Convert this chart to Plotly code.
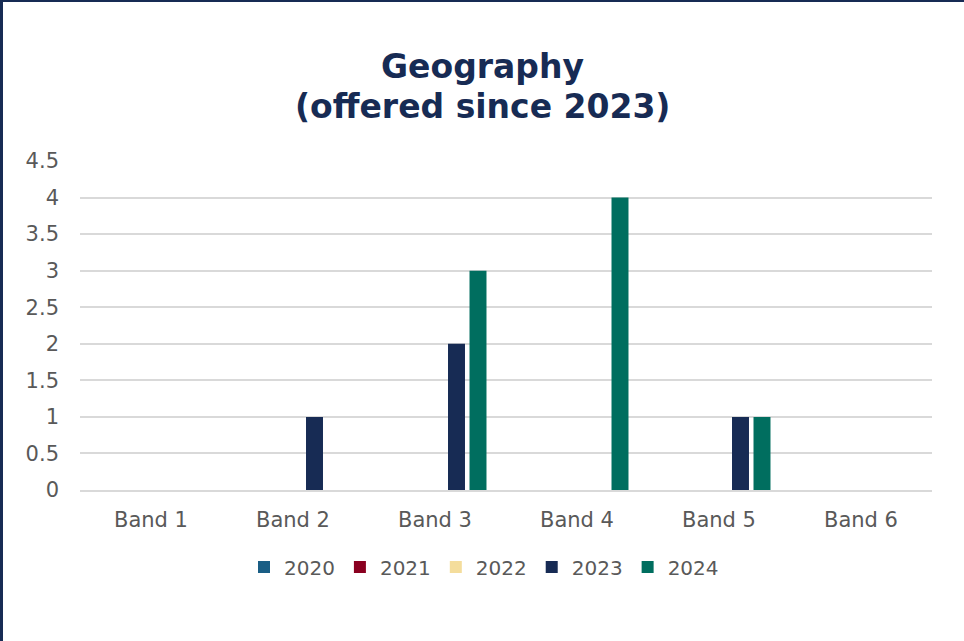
import plotly.graph_objects as go

# Categories and per-year counts
bands = ["Band 1", "Band 2", "Band 3", "Band 4", "Band 5", "Band 6"]
years = ["2020", "2021", "2022", "2023", "2024"]
counts_2020 = [0, 0, 0, 0, 0, 0]
counts_2021 = [0, 0, 0, 0, 0, 0]
counts_2022 = [0, 0, 0, 0, 0, 0]
counts_2023 = [0, 1, 2, 0, 1, 0]
counts_2024 = [0, 0, 3, 4, 1, 0]
y_ticks = [0, 0.5, 1, 1.5, 2, 2.5, 3, 3.5, 4, 4.5]
y_tick_text = ["0", "0.5", "1", "1.5", "2", "2.5", "3", "3.5", "4", "4.5"]
title_lines = ["Geography", "(offered since 2023)"]

series = [counts_2020, counts_2021, counts_2022, counts_2023, counts_2024]
colors = ["#1a5e85", "#8a0020", "#f4dd9c", "#172b54", "#006e5f"]

NAVY = "#172b54"
GREY = "#595959"
W, H = 964, 641
ML, MR, MT, MB = 80, 32, 161, 151
PW, PH = W - ML - MR, H - MT - MB

fig = go.Figure()
for name, vals, col in zip(years, series, colors):
    fig.add_trace(go.Bar(
        x=bands, y=vals, name=name,
        marker=dict(color=col, line=dict(width=0)),
    ))


def px_x(px):
    return (px - ML) / PW


def px_y(py):
    return (H - MB - py) / PH


# Navy frame on the left and top edges
frame = [
    dict(type="rect", xref="paper", yref="paper",
         x0=px_x(0), x1=px_x(3), y0=px_y(H), y1=px_y(0),
         fillcolor=NAVY, line=dict(width=0), layer="above"),
    dict(type="rect", xref="paper", yref="paper",
         x0=px_x(0), x1=px_x(W), y0=px_y(2), y1=px_y(0),
         fillcolor=NAVY, line=dict(width=0), layer="above"),
]

# Two-line heading, one annotation per line
title_font = dict(family="DejaVu Sans", size=33, color=NAVY, weight="bold")
heading = [
    dict(text=line, xref="paper", yref="paper",
         x=px_x(482), y=px_y(cy), xanchor="center", yanchor="middle",
         showarrow=False, font=title_font)
    for line, cy in zip(title_lines, [67, 106])
]

fig.update_layout(
    width=W, height=H,
    margin=dict(l=ML, r=MR, t=MT, b=MB, autoexpand=False),
    paper_bgcolor="white", plot_bgcolor="white",
    barmode="group", bargap=0.243, bargroupgap=0.21,
    font=dict(family="DejaVu Sans", size=21, color=GREY),
    xaxis=dict(
        showgrid=False, showline=True, linecolor="#d9d9d9", linewidth=1.5,
        ticks="", ticklabelstandoff=10,
        tickfont=dict(family="DejaVu Sans", size=21, color=GREY),
    ),
    yaxis=dict(
        range=[0, 4.5], tickvals=y_ticks, ticktext=y_tick_text,
        showgrid=True, gridcolor="#d9d9d9", gridwidth=1.5,
        zeroline=False, showline=False, ticks="", ticklabelstandoff=20,
        tickfont=dict(family="DejaVu Sans", size=21, color=GREY),
    ),
    legend=dict(
        orientation="h", x=px_x(484), xanchor="center",
        y=px_y(567), yanchor="middle",
        font=dict(family="DejaVu Sans", size=20, color=GREY),
        itemwidth=30, traceorder="normal",
    ),
    shapes=frame,
    annotations=heading,
)

fig.write_html("out.html")
